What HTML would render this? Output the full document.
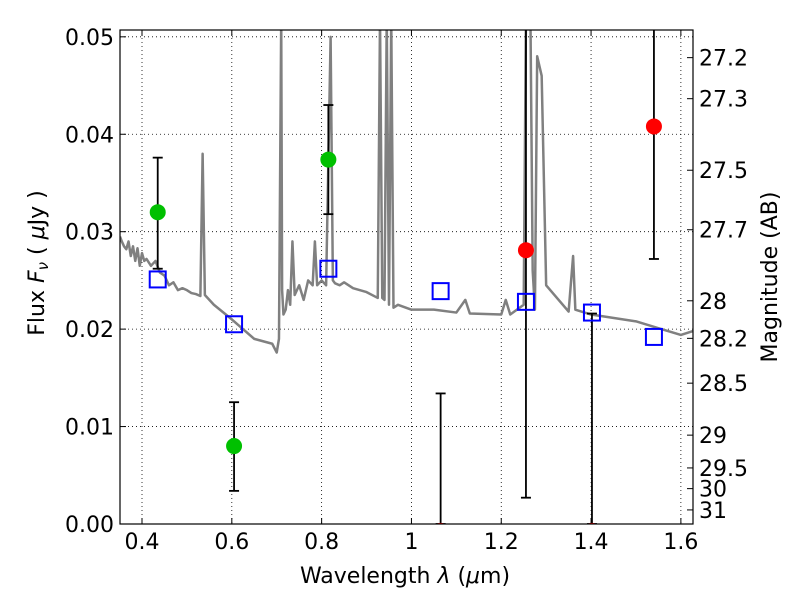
<!DOCTYPE html>
<html><head><meta charset="utf-8"><style>body{margin:0;background:#fff}svg{font-family:"DejaVu Sans","Liberation Sans",sans-serif}</style></head>
<body>
<svg id="c" width="800" height="600"></svg>
<script>
const specLam=[0.351,0.355,0.36,0.365,0.37,0.375,0.38,0.385,0.39,0.395,0.40,0.405,0.41,0.42,0.43,0.44,0.45,0.455,0.46,0.47,0.48,0.49,0.5,0.51,0.52,0.53,0.535,0.54,0.56,0.6,0.65,0.69,0.70,0.705,0.71,0.712,0.715,0.72,0.725,0.73,0.735,0.74,0.75,0.76,0.77,0.78,0.785,0.79,0.8,0.81,0.82,0.825,0.83,0.84,0.85,0.87,0.9,0.925,0.93,0.935,0.94,0.945,0.95,0.955,0.96,0.97,1.0,1.05,1.1,1.12,1.13,1.2,1.21,1.22,1.25,1.255,1.265,1.27,1.275,1.28,1.29,1.3,1.35,1.36,1.365,1.4,1.5,1.55,1.6,1.627];
const specFlux=[0.0295,0.029,0.0285,0.0282,0.029,0.0275,0.0285,0.027,0.0283,0.0265,0.0278,0.027,0.0272,0.0265,0.027,0.0258,0.0255,0.025,0.0245,0.0248,0.024,0.0242,0.024,0.0237,0.0236,0.0234,0.038,0.0235,0.0225,0.021,0.019,0.0185,0.0176,0.019,0.052,0.024,0.0215,0.022,0.024,0.0225,0.029,0.0235,0.0245,0.023,0.025,0.0245,0.029,0.0245,0.025,0.0245,0.05,0.025,0.0247,0.0245,0.0248,0.0242,0.0238,0.0232,0.052,0.0232,0.023,0.052,0.0225,0.052,0.0222,0.0225,0.022,0.022,0.0217,0.023,0.0216,0.0215,0.023,0.0215,0.0225,0.052,0.052,0.026,0.022,0.048,0.046,0.0245,0.0218,0.0275,0.022,0.0215,0.0208,0.0201,0.0194,0.0198];
const greenLam=[0.435,0.605,0.815], greenFlux=[0.032,0.008,0.0374], greenLo=[0.0262,0.0034,0.0318], greenHi=[0.0376,0.0125,0.043];
const redLam=[1.065,1.255,1.402,1.54], redFlux=[-0.0007,0.0281,-0.0007,0.0408], redLo=[0,0.0027,0,0.0272], redHi=[0.0134,0.052,0.0216,0.052];
const modelLam=[0.435,0.605,0.815,1.065,1.255,1.402,1.54], modelFlux=[0.0251,0.0205,0.0262,0.0239,0.0228,0.0217,0.0192];
const xTicks=[0.4,0.6,0.8,1.0,1.2,1.4,1.6], xTickLabels=["0.4","0.6","0.8","1","1.2","1.4","1.6"];
const yTicks=[0,0.01,0.02,0.03,0.04,0.05], yTickLabels=["0.00","0.01","0.02","0.03","0.04","0.05"];
const magTicks=[27.2,27.3,27.5,27.7,28,28.2,28.5,29,29.5,30,31], magLabels=["27.2","27.3","27.5","27.7","28","28.2","28.5","29","29.5","30","31"];
const L=120,R=693,T=30,B=524,X0=0.351,X1=1.627,Y0=0,Y1=0.0507;
const sx=v=>L+(v-X0)/(X1-X0)*(R-L), sy=v=>B-(v-Y0)/(Y1-Y0)*(B-T);
const svg=document.getElementById('c'),NS='http://www.w3.org/2000/svg';
function mk(t,a,p){const e=document.createElementNS(NS,t);for(const k in a)e.setAttribute(k,a[k]);(p||svg).appendChild(e);return e;}
const defs=mk('defs',{});const cp=mk('clipPath',{id:'cp'},defs);mk('rect',{x:L,y:T,width:R-L,height:B-T},cp);
const grid=mk('g',{});
xTicks.forEach((v,i)=>{const x=sx(v);
 mk('line',{x1:x,x2:x,y1:T,y2:B,stroke:'#000','stroke-dasharray':'1,3','stroke-width':0.8},grid);
 mk('line',{x1:x,x2:x,y1:B,y2:B-6,stroke:'#000'});mk('line',{x1:x,x2:x,y1:T,y2:T+6,stroke:'#000'});
 const t=mk('text',{x:x,y:B+25,'font-size':22,'text-anchor':'middle'});t.textContent=xTickLabels[i];
 });
yTicks.forEach((v,i)=>{const y=sy(v);
 mk('line',{x1:L,x2:R,y1:y,y2:y,stroke:'#000','stroke-dasharray':'1,3','stroke-width':0.8},grid);
 mk('line',{x1:L,x2:L+6,y1:y,y2:y,stroke:'#000'});
 const t=mk('text',{x:L-6,y:y+8,'font-size':22,'text-anchor':'end'});t.textContent=yTickLabels[i];
 });
magTicks.forEach((m,i)=>{const y=sy(Math.pow(10,(23.9-m)/2.5));
 mk('line',{x1:R-6,x2:R,y1:y,y2:y,stroke:'#000'});
 const t=mk('text',{x:R+6,y:y+8,'font-size':22});t.textContent=magLabels[i];
 });
const g=mk('g',{'clip-path':'url(#cp)'});
const sp=mk('polyline',{points:specLam.map((l,i)=>sx(l)+','+sy(specFlux[i])).join(' '),fill:'none',stroke:'#808080','stroke-width':2.5,'stroke-linejoin':'round'},g);

function pts(lam,f,lo,hi,col,name){lam.forEach((l,i)=>{const x=sx(l);
 mk('line',{x1:x,x2:x,y1:sy(lo[i]),y2:sy(hi[i]),stroke:'#000','stroke-width':1.8},g);
 mk('line',{x1:x-5,x2:x+5,y1:sy(lo[i]),y2:sy(lo[i]),stroke:'#000','stroke-width':1.8},g);
 mk('line',{x1:x-5,x2:x+5,y1:sy(hi[i]),y2:sy(hi[i]),stroke:'#000','stroke-width':1.8},g);
 const c=mk('circle',{cx:x,cy:sy(f[i]),r:8,fill:col},g);
 });}
pts(greenLam,greenFlux,greenLo,greenHi,'#00c000','green-photometry-point');
pts(redLam,redFlux,redLo,redHi,'#ff0000','red-photometry-point');
modelLam.forEach((l,i)=>{const s=mk('rect',{x:sx(l)-8,y:sy(modelFlux[i])-8,width:16,height:16,fill:'none',stroke:'#0000ff','stroke-width':2},g);
 });
const fr=mk('rect',{x:L,y:T,width:R-L,height:B-T,fill:'none',stroke:'#000','stroke-width':1.2});

let t=mk('text',{x:405,y:583,'font-size':22,'text-anchor':'middle'});t.innerHTML='Wavelength  <tspan font-style="italic">λ</tspan> (<tspan font-style="italic">μ</tspan>m)';

t=mk('text',{x:44,y:263,'font-size':22,'text-anchor':'middle',transform:'rotate(-90 44 263)'});t.innerHTML='Flux  <tspan font-style="italic">F</tspan><tspan font-size="15" font-style="italic" dy="4">ν</tspan><tspan dy="-4">  ( </tspan><tspan font-style="italic">μ</tspan>Jy )';

t=mk('text',{x:777,y:277,'font-size':22,'text-anchor':'middle',transform:'rotate(-90 777 277)'});t.textContent='Magnitude (AB)';

</script>
</body></html>
